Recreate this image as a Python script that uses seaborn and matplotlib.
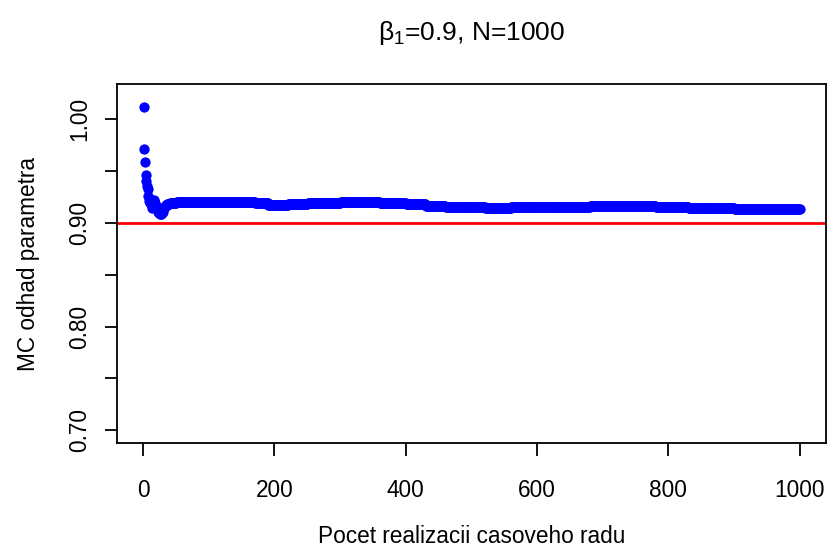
import numpy as np
import pandas as pd
import seaborn as sns
import matplotlib
matplotlib.use("Agg")
import matplotlib.pyplot as plt

# running MC estimate of beta_1, first realizations read one by one
first_values = [1.012, 0.971, 0.959, 0.946, 0.940, 0.936, 0.933, 0.926, 0.921, 0.919,
                0.923, 0.920, 0.916, 0.914, 0.917, 0.921, 0.922, 0.919, 0.916, 0.915,
                0.913, 0.912, 0.911, 0.910, 0.910, 0.909, 0.909, 0.909, 0.910, 0.911,
                0.913, 0.914, 0.915, 0.916, 0.917, 0.917, 0.918, 0.918, 0.918, 0.918]

plateau_levels = [0.919, 0.920, 0.919, 0.917, 0.918, 0.919, 0.920, 0.919, 0.918,
                  0.916, 0.915, 0.914, 0.915, 0.916, 0.915, 0.914, 0.913]
plateau_counts = [10, 120, 20, 30, 30, 50, 60, 40, 30,
                  30, 60, 40, 120, 100, 50, 70, 100]

true_beta = 0.9
n_total = 1000

estimates = first_values + [v for v, c in zip(plateau_levels, plateau_counts) for _ in range(c)]
df = pd.DataFrame({"n": np.arange(1, len(estimates) + 1), "odhad": estimates})

sns.set_style("ticks")
plt.rcParams["font.family"] = ["Liberation Sans", "DejaVu Sans"]
plt.rcParams["mathtext.fontset"] = "custom"
plt.rcParams["mathtext.rm"] = "Liberation Sans"
plt.rcParams["mathtext.it"] = "Liberation Sans"
plt.rcParams["mathtext.default"] = "regular"
plt.rcParams["text.color"] = "black"
plt.rcParams["axes.labelcolor"] = "black"

fig = plt.figure(figsize=(8.29, 5.5), dpi=100)
ax = fig.add_axes([0.1417, 0.194, 0.8547, 0.6524])

sns.scatterplot(data=df, x="n", y="odhad", color="#0000ff", s=55, linewidth=0, ax=ax, zorder=3)
ax.axhline(true_beta, color="#ff0000", lw=2.0, zorder=2)

# R-like axis ranges (4% padding)
ax.set_xlim(1 - 0.04 * 999, 1000 + 0.04 * 999)
ax.set_ylim(0.6875, 1.0335)

ax.set_xticks([0, 200, 400, 600, 800, 1000])
ax.set_yticks([0.70, 0.75, 0.80, 0.85, 0.90, 0.95, 1.00])
ax.set_yticklabels(["0.70", "", "0.80", "", "0.90", "", "1.00"], rotation=90, va="center")

for side in ["top", "right", "left", "bottom"]:
    ax.spines[side].set_visible(True)
    ax.spines[side].set_linewidth(1.3)
    ax.spines[side].set_color("black")
ax.tick_params(axis="both", direction="out", length=9, width=1.3, colors="black", labelsize=16.3)
ax.tick_params(axis="x", pad=17)
ax.tick_params(axis="y", pad=10)

ax.set_xlabel("Pocet realizacii casoveho radu", fontsize=16.3, labelpad=16)
ax.set_ylabel("MC odhad parametra", fontsize=16.3, labelpad=20)
ax.set_title(r"$\beta_1$=0.9, N=%d" % n_total, fontsize=19, pad=32)

fig.savefig("out.png", dpi=100)
